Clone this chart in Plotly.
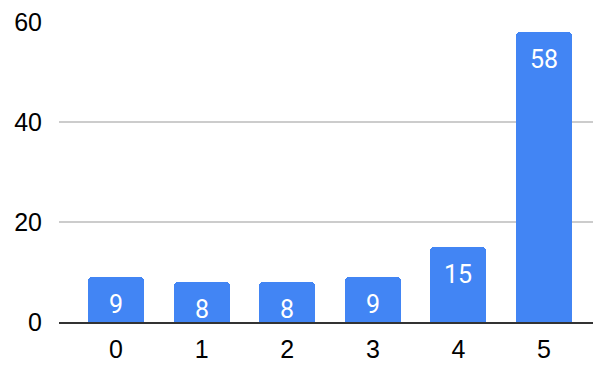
import plotly.graph_objects as go

categories = ["0", "1", "2", "3", "4", "5"]
values = [9, 8, 8, 9, 15, 58]
y_ticks = [0, 20, 40, 60]

fig = go.Figure()
fig.add_trace(go.Bar(
    x=list(range(len(categories))),
    y=values,
    width=0.655,
    marker=dict(color="#4285F4", cornerradius=4, line=dict(width=0)),
    hoverinfo="skip",
))

for i, v in enumerate(values):
    fig.add_annotation(
        x=i, y=v, text=str(v), showarrow=False,
        yanchor="top", yshift=-11,
        font=dict(family="Roboto", size=25, color="white"),
    )

fig.update_layout(
    width=593, height=365,
    margin=dict(l=59, r=0, t=22, b=43),
    plot_bgcolor="white", paper_bgcolor="white",
    showlegend=False,
    bargap=0,
    font=dict(family="Liberation Sans, Arial", size=25, color="#000"),
)
fig.update_xaxes(
    range=[-0.666, 5.572],
    tickmode="array",
    tickvals=list(range(len(categories))),
    ticktext=categories,
    showgrid=False, zeroline=False,
    showline=True, linecolor="#333333", linewidth=2,
    ticks="", ticklabelstandoff=4,
    tickfont=dict(size=25, color="#000"),
)
fig.update_yaxes(
    range=[0, 60],
    tickmode="array", tickvals=y_ticks,
    showgrid=True, gridcolor="#cccccc", gridwidth=1.5,
    zeroline=False, showline=False,
    ticks="", ticklabelstandoff=16,
    tickfont=dict(size=25, color="#000"),
)

fig.write_html("out.html")
